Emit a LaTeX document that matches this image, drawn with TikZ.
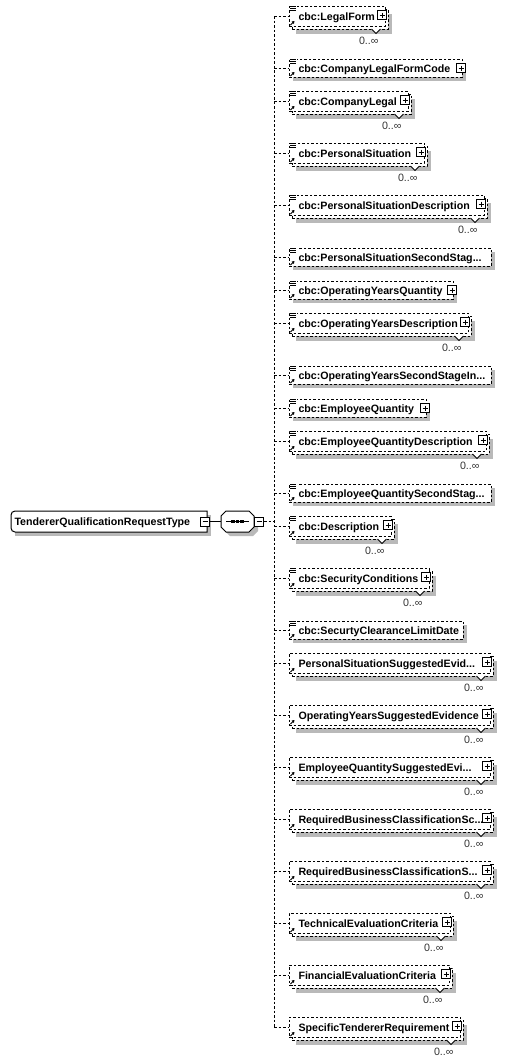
\documentclass[tikz,border=0pt]{standalone}
\usepackage{fontspec}
\setmainfont{Liberation Sans}
\usetikzlibrary{calc,arrows.meta}

\newlength{\pix}
\setlength{\pix}{0.75pt}
\definecolor{gris}{RGB}{185,185,185}
\newcommand{\puntos}{...}
% contorno octogonal de la secuencia
\newcommand{\contornosec}{([xshift=5\pix]sec.north west) -- ([xshift=-5\pix]sec.north east)
  -- ([yshift=-5\pix]sec.north east) -- ([yshift=5\pix]sec.south east)
  -- ([xshift=-5\pix]sec.south east) -- ([xshift=5\pix]sec.south west)
  -- ([yshift=5\pix]sec.south west) -- ([yshift=-5\pix]sec.north west) -- cycle}

\tikzset{
  trazo/.style={draw=black,line width=1\pix},
  punteado/.style={dash pattern=on 2.5\pix off 2\pix},
  marco/.style={trazo,punteado,fill=white},
  hueco/.style={rectangle,inner sep=0pt,outer sep=0pt,anchor=west},
  % caja delantera
  elems/.style={hueco,marco,minimum height=18\pix},
  elemt/.style={elems},
  elemm/.style={hueco,marco,minimum height=20\pix},
  % caja trasera (solo varios)
  fondos/.style={hueco,minimum height=18\pix},
  fondot/.style={fondos},
  fondom/.style={hueco,marco,minimum height=20\pix,xshift=3\pix,yshift=-3\pix},
  % sombra gris
  sombras/.style={hueco,fill=gris,minimum height=18\pix,xshift=4\pix,yshift=-4\pix},
  sombrat/.style={sombras},
  sombram/.style={hueco,fill=gris,minimum height=20\pix,xshift=7\pix,yshift=-8\pix},
  nombre/.style={font=\fontsize{8pt}{9pt}\selectfont\bfseries,inner sep=0pt,anchor=base west},
  cuenta/.style={font=\fontsize{8pt}{9pt}\selectfont,text=black!80,inner sep=0pt,anchor=east},
  caja/.style={rectangle,trazo,fill=white,minimum size=9\pix,inner sep=0pt},
  mas/.style={caja,path picture={
    \draw[line width=1\pix] ([xshift=2\pix]path picture bounding box.west)
      -- ([xshift=-2\pix]path picture bounding box.east)
      ([yshift=-2\pix]path picture bounding box.north)
      -- ([yshift=2\pix]path picture bounding box.south);}},
  menos/.style={caja,path picture={
    \draw[line width=1\pix] ([xshift=2\pix]path picture bounding box.west)
      -- ([xshift=-2\pix]path picture bounding box.east);}},
  conector/.style={trazo,punteado}
}

\begin{document}
\begin{tikzpicture}[x=1\pix,y=-1\pix,line width=1\pix]
  \useasboundingbox (0,0) rectangle (509,1061);
  % tipo raiz
  \node[hueco,fill=gris,minimum width=196\pix,minimum height=21\pix] (tipo-sombra) at (15,525.5) {};
  \node[hueco,minimum width=196\pix,minimum height=21\pix] (tipo) at (11,521.5) {};
  \draw[trazo,fill=white,rounded corners=4\pix]
    (tipo.north) -- (tipo.north west) -- (tipo.south west) -- (tipo.south)
    [sharp corners] -- (tipo.south east) -- (tipo.north east) -- cycle;
  \node[nombre] at (14,525.3) {TendererQualificationRequestType};
  \node[menos] (tipo-menos) at (205,521.5) {};
  % compositor de secuencia
  \node[hueco,minimum width=33\pix,minimum height=21\pix] (sec) at (221,521.5) {};
  \fill[gris,transform canvas={shift={(4\pix,-4\pix)}}] \contornosec;
  \draw[trazo,fill=white] \contornosec;
  \draw ([xshift=5\pix]sec.west) -- ([xshift=-5\pix]sec.east);
  \foreach \d in {-4.5,0,4.5}
    \fill ($(sec.center)+(\d-1.75,-1.75)$) rectangle ++(3.5,3.5);
  \node[menos] (sec-menos) at (259,521.5) {};
  \draw (tipo-menos) -- (sec);
  \coordinate (arriba) at (274,16);
  \coordinate (abajo) at (274,1027);
  \draw[conector] (sec-menos.east) -- (sec-menos.east -| arriba);
  \draw[conector] (arriba) -- (abajo);
  % elementos hijos
  \foreach \i/\yc/\xr/\nom/\tipo in {
      1/16/385/cbc:LegalForm/m,
      2/68/462/cbc:CompanyLegalFormCode/s,
      3/101/408/cbc:CompanyLegal/m,
      4/153/424/cbc:PersonalSituation/m,
      5/205/484/cbc:PersonalSituationDescription/m,
      6/257/491/cbc:PersonalSituationSecondStag\puntos/t,
      7/290/453/cbc:OperatingYearsQuantity/s,
      8/323/468/cbc:OperatingYearsDescription/m,
      9/375/491/cbc:OperatingYearsSecondStageIn\puntos/t,
      10/408/426/cbc:EmployeeQuantity/s,
      11/441/486/cbc:EmployeeQuantityDescription/m,
      12/493/491/cbc:EmployeeQuantitySecondStag\puntos/t,
      13/526/391/cbc:Description/m,
      14/578/429/cbc:SecurityConditions/m,
      15/630/463/cbc:SecurtyClearanceLimitDate/t,
      16/663/490/PersonalSituationSuggestedEvid\puntos/m,
      17/715/490/OperatingYearsSuggestedEvidence/m,
      18/767/490/EmployeeQuantitySuggestedEvi\puntos/m,
      19/819/490/RequiredBusinessClassificationSc\puntos/m,
      20/871/490/RequiredBusinessClassificationS\puntos/m,
      21/923/450/TechnicalEvaluationCriteria/m,
      22/975/449/FinancialEvaluationCriteria/m,
      23/1027/460/SpecificTendererRequirement/m}{
    \pgfmathsetmacro{\ancho}{\xr-289}
    \node[sombra\tipo,minimum width=\ancho\pix] (s\i) at (289,\yc) {};
    \node[fondo\tipo,minimum width=\ancho\pix] (f\i) at (289,\yc) {};
    \node[elem\tipo,minimum width=\ancho\pix] (e\i) at (289,\yc) {};
    \draw[conector] (e\i.west -| arriba) -- (e\i.west);
    \node[nombre] at (298,\yc+4.5) {\nom};
    \ifnum\i<16
      \fill[white] ($(e\i.north west)+(0.5,-1)$) rectangle ++(7,6);
      \foreach \yy in {0,2,4} \draw ($(e\i.north west)+(1,\yy)$) -- ++(6,0);
    \fi
    \draw[-{Triangle[length=1.9pt,width=2.3pt]}] ($(e\i.south west)+(1.5,-1)$) -- ++(4,-4);
    \if\tipo m
      \node[mas] at ($(e\i.east)+(-3,-1)$) {};
      \filldraw[fill=white] ($(f\i.south east)+(-16.5,0)$) -- ++(4.5,4.5) -- ++(4.5,-4.5);
      \node[cuenta] at (\xr-6,\yc+24.5) {0..∞};
    \fi
    \if\tipo s\node[mas] at ($(e\i.east)+(-1,0)$) {};\fi
  }
\end{tikzpicture}
\end{document}
